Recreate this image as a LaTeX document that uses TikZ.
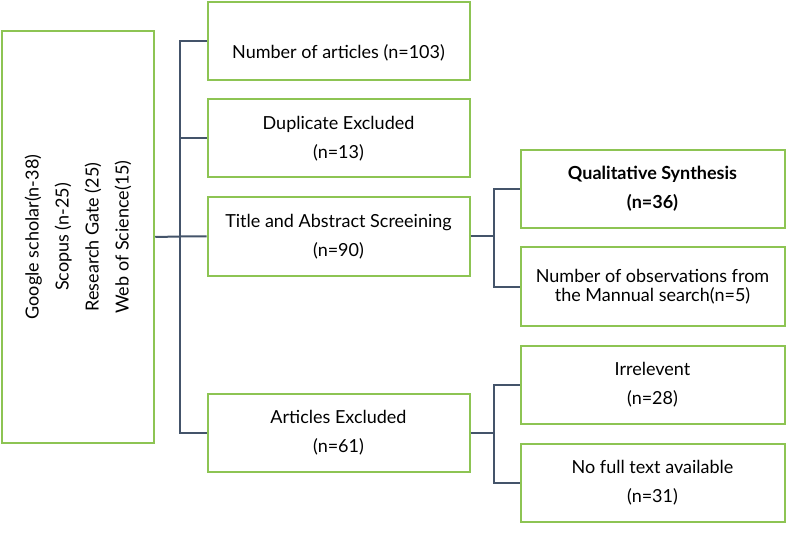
\documentclass[tikz,border=0pt]{standalone}
\usepackage{fontspec}
\setmainfont{Lato}
\definecolor{boxgreen}{RGB}{141,196,83}
\definecolor{linkgray}{RGB}{68,84,106}
\tikzstyle{block} = [align=center,draw=boxgreen,line width=1.5pt,rectangle,text centered,font=\fontsize{13.5}{22}\selectfont,inner sep=2pt]
\tikzstyle{link} = [draw=linkgray,line width=1.5pt]

\begin{document}
\begin{tikzpicture}[x=0.75pt,y=-0.75pt]
	\useasboundingbox (0,0) rectangle (787,534);
	\node (src) [block,minimum width=152.5*0.75pt,minimum height=412*0.75pt] at (78,237) {};
	\node [rotate=90,align=center,font=\fontsize{13.5}{22.5}\selectfont] at (src.center) {Google scholar(n-38)\\Scopus (n-25)\\Research Gate (25)\\Web of Science(15)};
	\node (num) [block,minimum width=262*0.75pt,minimum height=78*0.75pt] at (338.5,41) {\\[6pt]Number of articles (n=103)};
	\node (dup) [block,minimum width=262*0.75pt,minimum height=78*0.75pt] at (338.5,138.5) {Duplicate Excluded\\(n=13)};
	\node (tas) [block,minimum width=262*0.75pt,minimum height=78*0.75pt] at (338.5,236.5) {Title and Abstract Screeining\\(n=90)};
	\node (exc) [block,minimum width=262*0.75pt,minimum height=78*0.75pt] at (338.5,432.5) {Articles Excluded\\(n=61)};
	\node (qs) [block,minimum width=264*0.75pt,minimum height=78*0.75pt] at (652.5,189) {\textbf{Qualitative Synthesis}\\\textbf{(n=36)}};
	\node (obs) [block,minimum width=264*0.75pt,minimum height=78*0.75pt,font=\fontsize{13.5}{14.5}\selectfont] at (652.5,286.5) {Number of observations from\\the Mannual search(n=5)};
	\node (irr) [block,minimum width=264*0.75pt,minimum height=78*0.75pt] at (652.5,384.5) {Irrelevent\\(n=28)};
	\node (nft) [block,minimum width=264*0.75pt,minimum height=78*0.75pt] at (652.5,482.5) {No full text available\\(n=31)};
	\draw [link] (src.east) -- ([xshift=-20pt]tas.west) -- (tas.west);
	\draw [link] (num.west) -- ([xshift=-20pt]num.west) -- ([xshift=-20pt]exc.west) -- (exc.west);
	\draw [link] (dup.west) -- ([xshift=-20pt]dup.west);
	\draw [link] (tas.east) -- ([xshift=-19.5pt]qs.west |- tas.east);
	\draw [link] (qs.west) -- ([xshift=-19.5pt]qs.west) -- ([xshift=-19.5pt]obs.west) -- (obs.west);
	\draw [link] (exc.east) -- ([xshift=-19.5pt]irr.west |- exc.east);
	\draw [link] (irr.west) -- ([xshift=-19.5pt]irr.west) -- ([xshift=-19.5pt]nft.west) -- (nft.west);
\end{tikzpicture}
\end{document}
